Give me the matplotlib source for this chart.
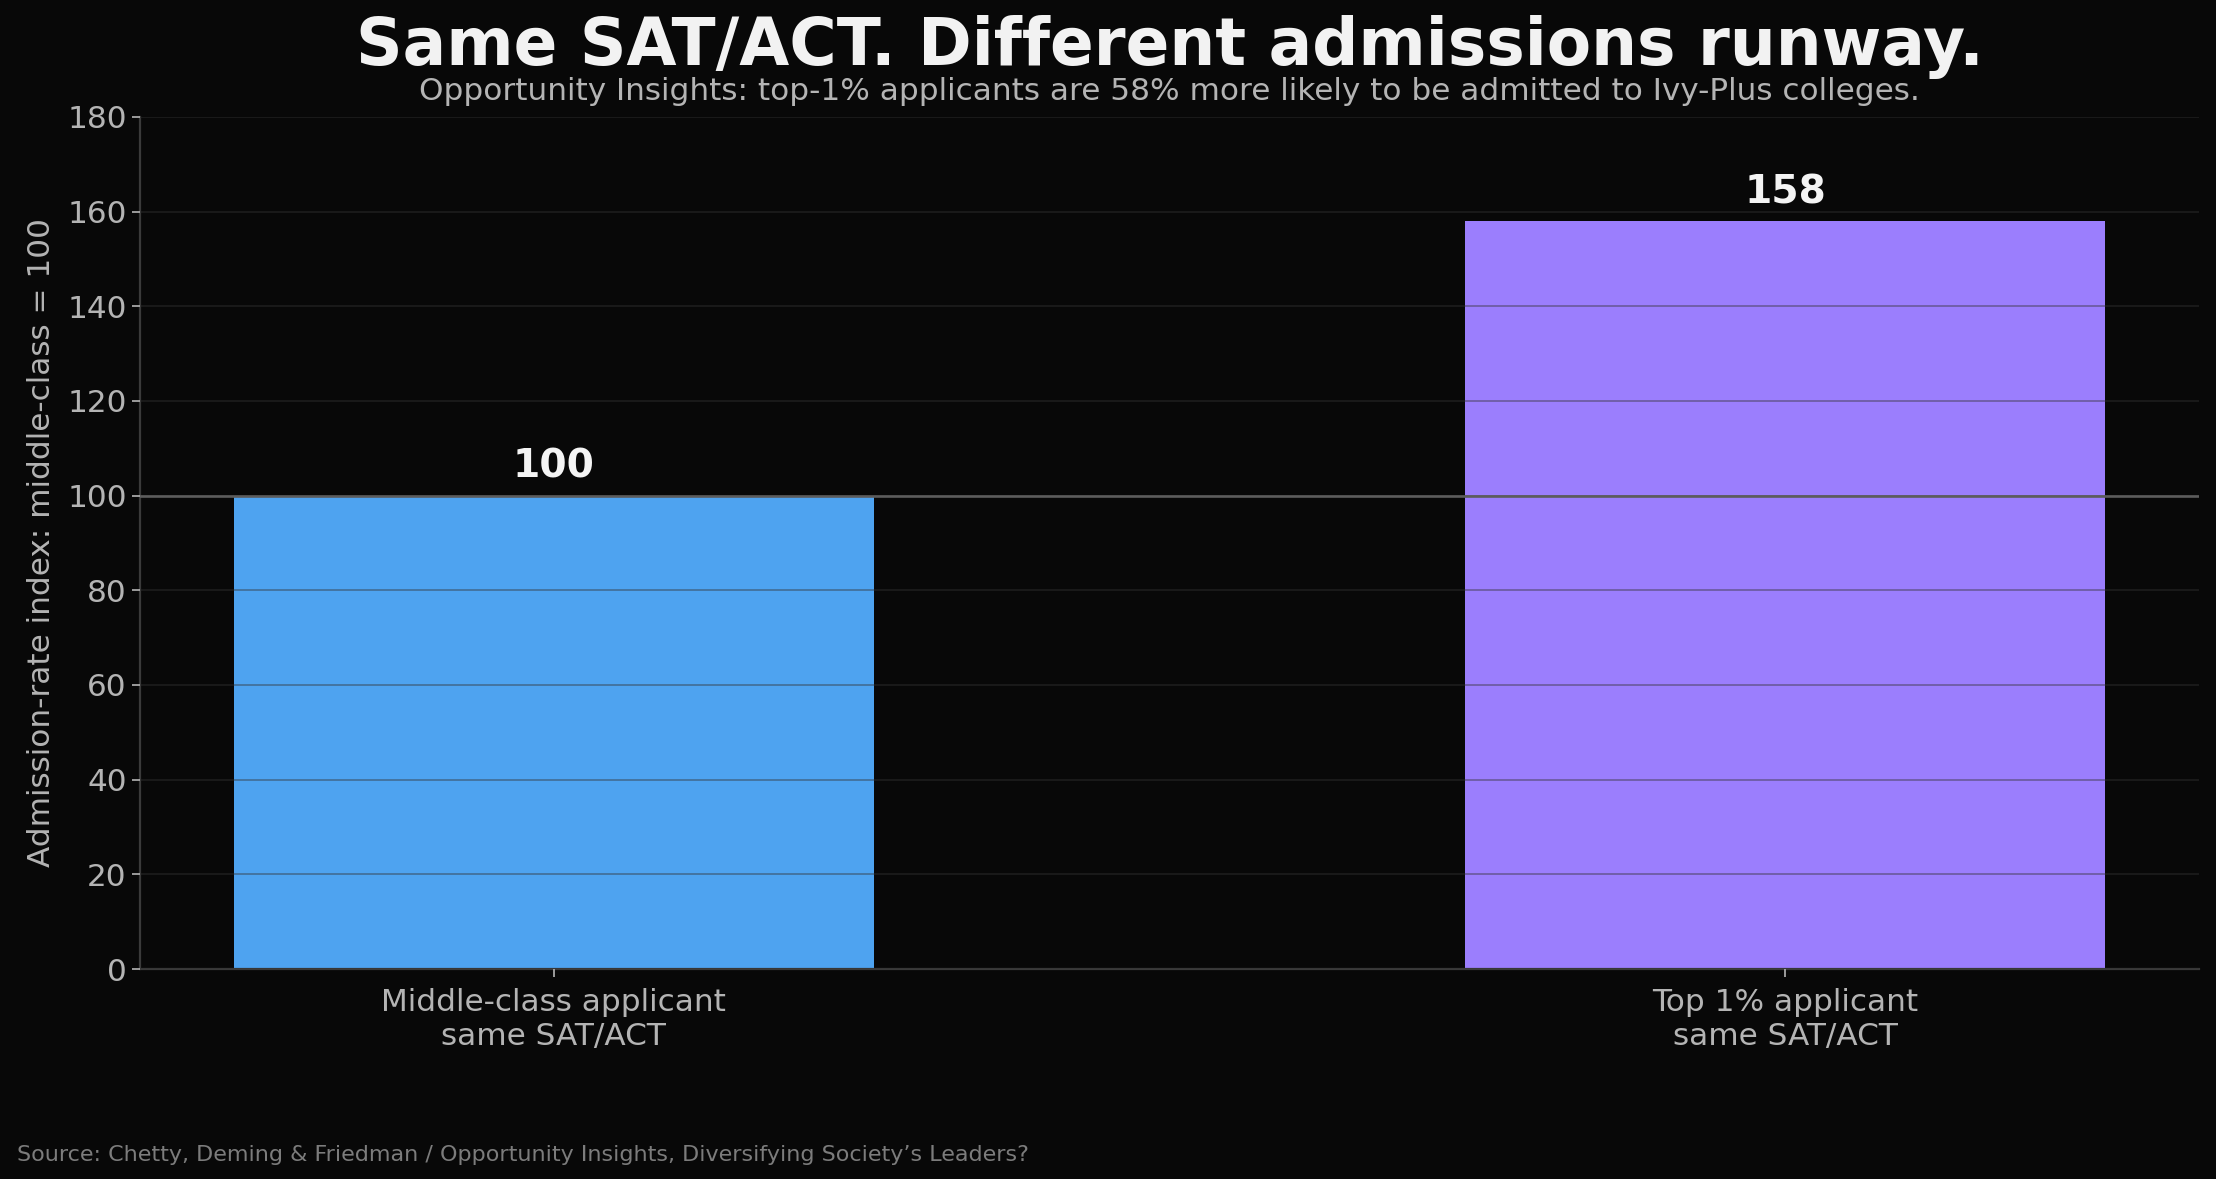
import matplotlib.pyplot as plt
import numpy as np

# data
categories = ['Middle-class applicant\nsame SAT/ACT', 'Top 1% applicant\nsame SAT/ACT']
values = [100, 158]
bar_colors = ['#4ea3f0', '#9b7efd']
y_ticks = [0, 20, 40, 60, 80, 100, 120, 140, 160, 180]

bg = '#080808'
grey = '#b4b4b4'

fig = plt.figure(figsize=(22.16, 11.79), dpi=100, facecolor=bg)
ax = fig.add_axes([0.0632, 0.1781, 0.9291, 0.7227])
ax.set_facecolor(bg)

x = np.arange(len(categories))
ax.bar(x, values, width=0.52, color=bar_colors, zorder=1)

# grid drawn over bars
ax.set_axisbelow(False)
ax.yaxis.grid(True, color='#343434', alpha=0.45, linewidth=1.3, zorder=2)
ax.axhline(100, color='#5c5c5c', linewidth=1.9, zorder=3)

for xi, v in zip(x, values):
    ax.annotate(str(v), (xi, v), xytext=(0, 13), textcoords='offset points',
                ha='center', va='baseline', fontsize=28.2, fontweight='bold',
                color='#f4f4f4', zorder=4)

ax.set_ylim(0, 180)
ax.set_yticks(y_ticks)
ax.set_xticks(x)
ax.set_xticklabels(categories)
ax.tick_params(axis='both', colors=grey, labelsize=22.4, length=6, width=1.2)
ax.tick_params(axis='x', pad=8)

for s in ['top', 'right']:
    ax.spines[s].set_visible(False)
for s in ['left', 'bottom']:
    ax.spines[s].set_color('#3a3a3a')
    ax.spines[s].set_linewidth(1.6)

ax.set_ylabel('Admission-rate index: middle-class = 100', color=grey, fontsize=22.4, labelpad=8)

cx = 0.0632 + 0.9291 / 2
fig.text(cx, 0.9449, 'Same SAT/ACT. Different admissions runway.', ha='center', va='baseline',
         fontsize=46.5, fontweight='bold', color='#f2f2f2')
fig.text(cx, 0.9152, 'Opportunity Insights: top-1% applicants are 58% more likely to be admitted to Ivy-Plus colleges.',
         ha='center', va='baseline', fontsize=22.4, color=grey)
fig.text(0.0077, 0.0155, 'Source: Chetty, Deming & Friedman / Opportunity Insights, Diversifying Society\u2019s Leaders?',
         ha='left', va='baseline', fontsize=16.0, color='#7c7c7c')

fig.savefig('out.png', dpi=100, facecolor=bg)
